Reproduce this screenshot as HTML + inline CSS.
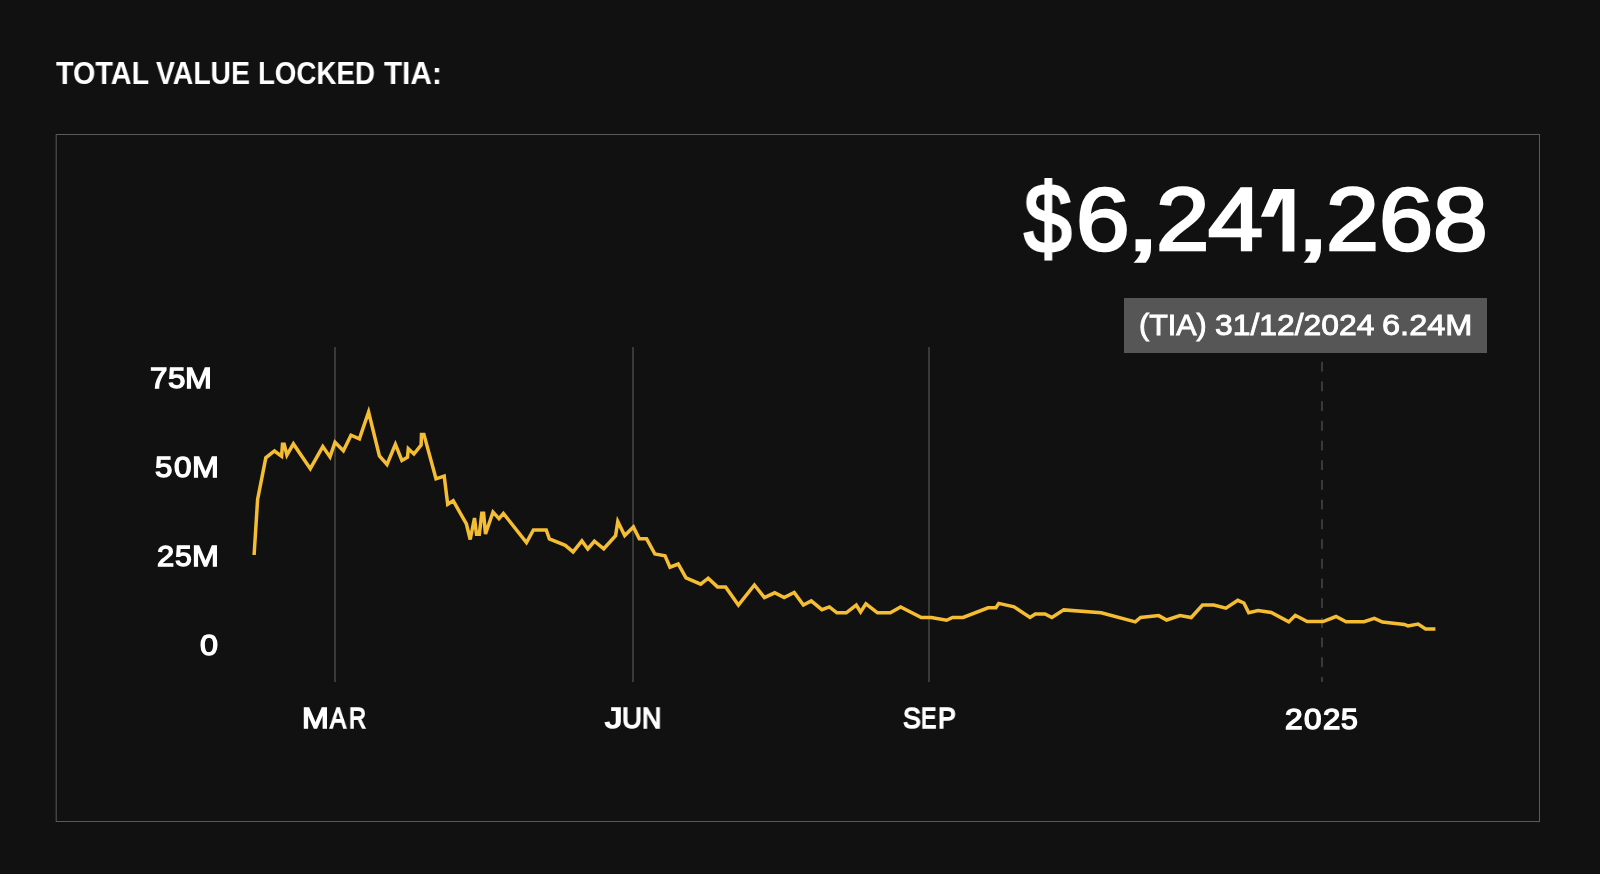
<!DOCTYPE html>
<html><head><meta charset="utf-8"><style>
html,body{margin:0;padding:0;background:#111111;width:1600px;height:874px;overflow:hidden}
.t{position:absolute;font-family:"Liberation Sans",sans-serif;font-weight:700;line-height:1;color:#fff;white-space:nowrap;transform-origin:0 0;-webkit-font-smoothing:antialiased;will-change:transform}
.box{position:absolute;left:56px;top:134px;width:1484px;height:688px;box-sizing:border-box;border:1px solid #575757}
.tipbox{position:absolute;left:1124px;top:298px;width:363px;height:55px;background:#565656}
svg{position:absolute;left:0;top:0}
</style></head><body>
<svg width="1600" height="874" viewBox="0 0 1600 874">
<g stroke="#5a5a5a" stroke-width="1" fill="none">
<line x1="56.2" y1="134" x2="56.2" y2="822"/>
<line x1="56" y1="134.5" x2="1540" y2="134.5"/>
<line x1="1539.5" y1="134" x2="1539.5" y2="822"/>
<line x1="56" y1="821.5" x2="1540" y2="821.5"/>
</g>
<g fill="#393939">
<rect x="334" y="347" width="2" height="335"/>
<rect x="632" y="347" width="2" height="335"/>
<rect x="928" y="347" width="2" height="335"/>
<rect x="1321" y="361.80" width="2" height="9.80"/><rect x="1321" y="381.50" width="2" height="9.80"/><rect x="1321" y="401.20" width="2" height="9.80"/><rect x="1321" y="420.90" width="2" height="9.80"/><rect x="1321" y="440.60" width="2" height="9.80"/><rect x="1321" y="460.30" width="2" height="9.80"/><rect x="1321" y="480.00" width="2" height="9.80"/><rect x="1321" y="499.70" width="2" height="9.80"/><rect x="1321" y="519.40" width="2" height="9.80"/><rect x="1321" y="539.10" width="2" height="9.80"/><rect x="1321" y="558.80" width="2" height="9.80"/><rect x="1321" y="578.50" width="2" height="9.80"/><rect x="1321" y="598.20" width="2" height="9.80"/><rect x="1321" y="617.90" width="2" height="9.80"/><rect x="1321" y="637.60" width="2" height="9.80"/><rect x="1321" y="657.30" width="2" height="9.80"/><rect x="1321" y="677.00" width="2" height="5.00"/>
</g>
<polyline fill="none" stroke="#F4BD33" stroke-width="3.5" stroke-linejoin="miter" stroke-miterlimit="4" stroke-linecap="butt" points="254.1,555 257.6,499.5 265.8,457.8 274.4,451.0 281.6,456.2 282.5,444.2 284.2,444.2 286.9,455.2 293.4,443.9 310.3,468.7 322.8,446.6 330.0,456.9 335.0,442.2 343.4,450.8 351.0,435.2 359.4,438.8 368.6,412.0 379.4,456.0 387.0,464.5 395.4,444.4 401.9,460.4 407.5,457.2 408.3,448.8 413.9,454.0 421.1,445.2 421.5,434.4 423.9,434.4 436.0,478.8 444.2,476.0 447.7,504.2 453.2,500.7 466.4,524 470.2,539.5 474.5,518 476.5,534.3 479.3,534.3 481.8,513.2 483.6,513.2 485.5,534 493.0,512 499.0,518.6 503.4,513.5 526.5,542.5 533.4,530 546.25,530 549.4,539 565.3,545.3 573.1,551.9 581.9,540.9 587.8,549 594.4,541.25 603.75,548.75 615.6,535.6 617.8,521.5 624.7,535.6 633.4,527 639.3,538.8 646.6,538.8 654.9,554 665,555.8 670,567.2 678.2,564 686,577.8 700.7,584.2 708.2,578.2 717.5,586.9 725.6,586.9 738.4,605 754.4,585 764.4,597.5 774.7,592.8 784.1,597.5 794.2,592.5 803.4,605 811.25,600.9 821.9,609.7 829.4,606.9 836.9,612.8 846.25,612.8 856.25,605 860.6,611.9 865.9,603.75 877.5,612.8 890.3,612.8 900.6,606.9 921.25,617.5 931.25,617.5 946.6,620.3 952.5,617.5 963.1,617.5 988.1,607.8 995.9,607.8 998.75,603.4 1014.1,606.9 1030,617.5 1035.3,614 1045,614 1051.9,617.5 1063.75,609.9 1101.25,612.8 1135.3,621.9 1140.6,617.5 1158.75,615.6 1166.6,620 1180,615.6 1191.25,617.5 1202.5,605 1213.75,605 1225.9,608.1 1237.8,600.3 1243.9,603 1248.75,612.8 1258.1,610.6 1271.25,612.5 1288.75,621.9 1295.3,615.3 1307.2,621.6 1323.1,621.6 1336,616.5 1346.1,621.75 1364.1,621.75 1374.3,618.4 1382.5,622.1 1404.3,624.4 1408,625.9 1418.1,624 1425.6,628.9 1435.4,628.9"/>
</svg>
<div class="tipbox"></div>
<svg width="1600" height="874" viewBox="0 0 1600 874"><polygon fill="#fff" points="1273.3,188.9 1294.4,188.9 1294.4,251.4 1282.5,251.4 1282.5,198.0 1273.6,216.7 1260.9,216.7"/></svg>
<div class="t" style="left:55.61px;top:56.59px;font-size:32.13px;font-weight:700;transform:scaleX(0.8948)">TOTAL</div>
<div class="t" style="left:156.11px;top:56.59px;font-size:32.13px;font-weight:700;transform:scaleX(0.8828)">VALUE</div>
<div class="t" style="left:258.2px;top:56.59px;font-size:32.13px;font-weight:700;transform:scaleX(0.8622)">LOCKED</div>
<div class="t" style="left:383.7px;top:56.59px;font-size:32.13px;font-weight:700;transform:scaleX(0.9261)">TIA:</div>
<div class="t" style="left:1024.43px;top:169.11px;font-size:98.82px;font-weight:400;-webkit-text-stroke:2.96px #fff;transform:scaleX(0.8674)">$</div>
<div class="t" style="left:1076.12px;top:175.75px;font-size:88.11px;font-weight:400;-webkit-text-stroke:2.64px #fff;transform:scaleX(1.0944)">6</div>
<div class="t" style="left:1126.24px;top:175.75px;font-size:88.11px;font-weight:400;-webkit-text-stroke:2.64px #fff;transform:scaleX(1.3984)">,</div>
<div class="t" style="left:1155.64px;top:175.75px;font-size:88.11px;font-weight:400;-webkit-text-stroke:2.64px #fff;transform:scaleX(1.0881)">2</div>
<div class="t" style="left:1207.91px;top:175.75px;font-size:88.11px;font-weight:400;-webkit-text-stroke:2.64px #fff;transform:scaleX(1.1242)">4</div>
<div class="t" style="left:1296.41px;top:175.75px;font-size:88.11px;font-weight:400;-webkit-text-stroke:2.64px #fff;transform:scaleX(1.3944)">,</div>
<div class="t" style="left:1326.07px;top:175.75px;font-size:88.11px;font-weight:400;-webkit-text-stroke:2.64px #fff;transform:scaleX(1.0788)">2</div>
<div class="t" style="left:1379.09px;top:175.75px;font-size:88.11px;font-weight:400;-webkit-text-stroke:2.64px #fff;transform:scaleX(1.1048)">6</div>
<div class="t" style="left:1432.65px;top:175.75px;font-size:88.11px;font-weight:400;-webkit-text-stroke:2.64px #fff;transform:scaleX(1.1168)">8</div>
<div class="t" style="left:1139.23px;top:311.33px;font-size:28.69px;font-weight:400;-webkit-text-stroke:0.89px #fff;transform:scaleX(1.0612)">(TIA)</div>
<div class="t" style="left:1214.86px;top:311.33px;font-size:28.69px;font-weight:400;-webkit-text-stroke:0.89px #fff;transform:scaleX(1.1098)">31/12/2024</div>
<div class="t" style="left:1381.96px;top:311.33px;font-size:28.69px;font-weight:400;-webkit-text-stroke:0.89px #fff;transform:scaleX(1.1341)">6.24M</div>
<div class="t" style="left:200.31px;top:630.06px;font-size:29.47px;font-weight:400;-webkit-text-stroke:1.33px #fff;transform:scaleX(1.0986)">0</div>
<div class="t" style="left:302.23px;top:703.06px;font-size:29.53px;font-weight:400;-webkit-text-stroke:1.48px #fff;transform:scaleX(1.0912)">M</div>
<div class="t" style="left:330.34px;top:703.06px;font-size:29.53px;font-weight:400;-webkit-text-stroke:1.48px #fff;transform:scaleX(0.8155)">A</div>
<div class="t" style="left:348.8px;top:703.06px;font-size:29.53px;font-weight:400;-webkit-text-stroke:1.48px #fff;transform:scaleX(0.7995)">R</div>
<div class="t" style="left:604.53px;top:703.83px;font-size:29.0px;font-weight:400;-webkit-text-stroke:1.45px #fff;transform:scaleX(1.2088)">J</div>
<div class="t" style="left:621.82px;top:703.83px;font-size:29.0px;font-weight:400;-webkit-text-stroke:1.45px #fff;transform:scaleX(0.9511)">U</div>
<div class="t" style="left:642.33px;top:703.83px;font-size:29.0px;font-weight:400;-webkit-text-stroke:1.45px #fff;transform:scaleX(0.9214)">N</div>
<div class="t" style="left:902.8px;top:703.53px;font-size:28.95px;font-weight:400;-webkit-text-stroke:1.45px #fff;transform:scaleX(0.9211)">S</div>
<div class="t" style="left:921.33px;top:703.53px;font-size:28.95px;font-weight:400;-webkit-text-stroke:1.45px #fff;transform:scaleX(0.7953)">E</div>
<div class="t" style="left:937.72px;top:703.53px;font-size:28.95px;font-weight:400;-webkit-text-stroke:1.45px #fff;transform:scaleX(0.927)">P</div>
<div class="t" style="left:1285.11px;top:705.39px;font-size:29.21px;font-weight:400;-webkit-text-stroke:1.46px #fff;transform:scaleX(1.0847)">2</div>
<div class="t" style="left:1303.63px;top:705.39px;font-size:29.21px;font-weight:400;-webkit-text-stroke:1.46px #fff;transform:scaleX(1.076)">0</div>
<div class="t" style="left:1322.62px;top:705.39px;font-size:29.21px;font-weight:400;-webkit-text-stroke:1.46px #fff;transform:scaleX(1.0643)">2</div>
<div class="t" style="left:1340.6px;top:705.39px;font-size:29.21px;font-weight:400;-webkit-text-stroke:1.46px #fff;transform:scaleX(1.0335)">5</div>
<div class="t" style="left:150.31px;top:364.06px;font-size:28.8px;font-weight:400;-webkit-text-stroke:1.3px #fff;transform:scaleX(1.0868)">7</div>
<div class="t" style="left:167.93px;top:364.06px;font-size:28.8px;font-weight:400;-webkit-text-stroke:1.3px #fff;transform:scaleX(1.0884)">5</div>
<div class="t" style="left:185.26px;top:364.06px;font-size:28.8px;font-weight:400;-webkit-text-stroke:1.3px #fff;transform:scaleX(1.1218)">M</div>
<div class="t" style="left:155.43px;top:453.16px;font-size:28.68px;font-weight:400;-webkit-text-stroke:1.29px #fff;transform:scaleX(1.093)">5</div>
<div class="t" style="left:174.23px;top:453.16px;font-size:28.68px;font-weight:400;-webkit-text-stroke:1.29px #fff;transform:scaleX(1.0992)">0</div>
<div class="t" style="left:192.16px;top:453.16px;font-size:28.68px;font-weight:400;-webkit-text-stroke:1.29px #fff;transform:scaleX(1.1265)">M</div>
<div class="t" style="left:157.03px;top:541.84px;font-size:28.82px;font-weight:400;-webkit-text-stroke:1.3px #fff;transform:scaleX(1.0719)">2</div>
<div class="t" style="left:175.45px;top:541.84px;font-size:28.82px;font-weight:400;-webkit-text-stroke:1.3px #fff;transform:scaleX(1.0476)">5</div>
<div class="t" style="left:192.16px;top:541.84px;font-size:28.82px;font-weight:400;-webkit-text-stroke:1.3px #fff;transform:scaleX(1.121)">M</div>
</body></html>
